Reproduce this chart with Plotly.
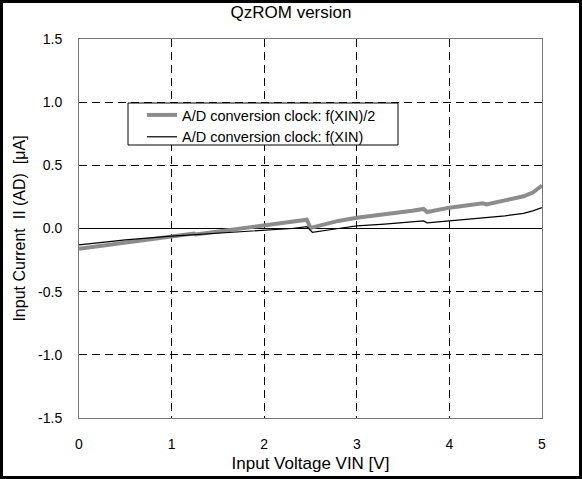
import plotly.graph_objects as go

# A/D conversion clock: f(XIN)/2  (thick grey)
x_half = [0, 0.5, 1.0, 1.24, 1.26, 1.6, 2.0, 2.3, 2.46, 2.5, 2.8, 3.0, 3.3,
          3.6, 3.72, 3.76, 4.0, 4.3, 4.36, 4.4, 4.6, 4.8, 4.9, 5.0]
y_half = [-0.16, -0.11, -0.065, -0.04, -0.047, -0.015, 0.025, 0.05, 0.07, 0.005,
          0.06, 0.085, 0.11, 0.14, 0.155, 0.13, 0.165, 0.19, 0.2, 0.19, 0.22,
          0.255, 0.285, 0.34]

# A/D conversion clock: f(XIN)  (thin black)
x_full = [0, 0.5, 1.0, 1.5, 2.0, 2.3, 2.46, 2.52, 2.8, 3.0, 3.3, 3.6, 3.72,
          3.76, 4.0, 4.3, 4.6, 4.8, 4.9, 5.0]
y_full = [-0.13, -0.09, -0.06, -0.035, -0.015, 0.0, 0.015, -0.03, 0.0, 0.02,
          0.035, 0.05, 0.06, 0.045, 0.063, 0.08, 0.1, 0.12, 0.14, 0.165]

x_ticks = [0, 1, 2, 3, 4, 5]
y_ticks = [-1.5, -1.0, -0.5, 0.0, 0.5, 1.0, 1.5]

font = "Arial, Liberation Sans, sans-serif"

fig = go.Figure()
fig.add_trace(go.Scatter(x=x_half, y=y_half, mode="lines",
                         name="A/D conversion clock: f(XIN)/2",
                         line=dict(color="#8c8c8c", width=4)))
fig.add_trace(go.Scatter(x=x_full, y=y_full, mode="lines",
                         name="A/D conversion clock: f(XIN)",
                         line=dict(color="black", width=1.2)))

fig.update_layout(
    width=582, height=479,
    margin=dict(l=79, r=40, t=39, b=61, autoexpand=False),
    paper_bgcolor="white", plot_bgcolor="white",
    font=dict(family=font, size=14, color="black"),
    title=dict(text="QzROM version", x=0.5, xref="container", y=1 - 12 / 479,
               yref="container", xanchor="center", yanchor="middle",
               font=dict(size=17)),
    legend=dict(x=(142 - 79) / 463, y=(418 - 99) / 379, xanchor="left", yanchor="top",
                bgcolor="rgba(0,0,0,0)", borderwidth=0,
                font=dict(size=14.5), tracegroupgap=0, itemwidth=30),
    showlegend=True,
)

fig.update_xaxes(range=[0, 5], tickvals=x_ticks, ticktext=[str(v) for v in x_ticks],
                 showgrid=True, griddash="8px,5px", gridcolor="black", gridwidth=1,
                 showline=True, linecolor="#777777", linewidth=1, mirror=True,
                 zeroline=False, ticks="", ticklabelstandoff=13, automargin=False,
                 title=dict(text="Input Voltage VIN [V]", standoff=6,
                            font=dict(size=17)))
fig.update_yaxes(range=[-1.5, 1.5], tickvals=y_ticks,
                 ticktext=["%.1f" % v for v in y_ticks],
                 showgrid=True, griddash="8px,5px", gridcolor="black", gridwidth=1,
                 showline=True, linecolor="#777777", linewidth=1, mirror=True,
                 zeroline=True, zerolinecolor="black", zerolinewidth=1,
                 ticks="", ticklabelstandoff=13, automargin=False,
                 title=dict(text="Input Current\u00a0\u00a0II (AD)\u00a0\u00a0[\u03bcA]",
                            standoff=8, font=dict(size=16)))

# legend box
fig.add_shape(type="rect", xref="paper", yref="paper",
              x0=(128 - 79) / 463, x1=(398 - 79) / 463,
              y0=(418 - 145) / 379, y1=(418 - 103) / 379,
              fillcolor="white", line=dict(color="black", width=1), layer="above")

# outer frame around the whole picture
fig.add_shape(type="rect", xref="paper", yref="paper",
              x0=-77.5 / 463, x1=1 + 38.5 / 463,
              y0=-59.5 / 379, y1=1 + 37.5 / 379,
              line=dict(color="black", width=3), layer="above")

fig.write_html("out.html", config={"displayModeBar": False},
               post_script="document.body.style.margin='0';")
